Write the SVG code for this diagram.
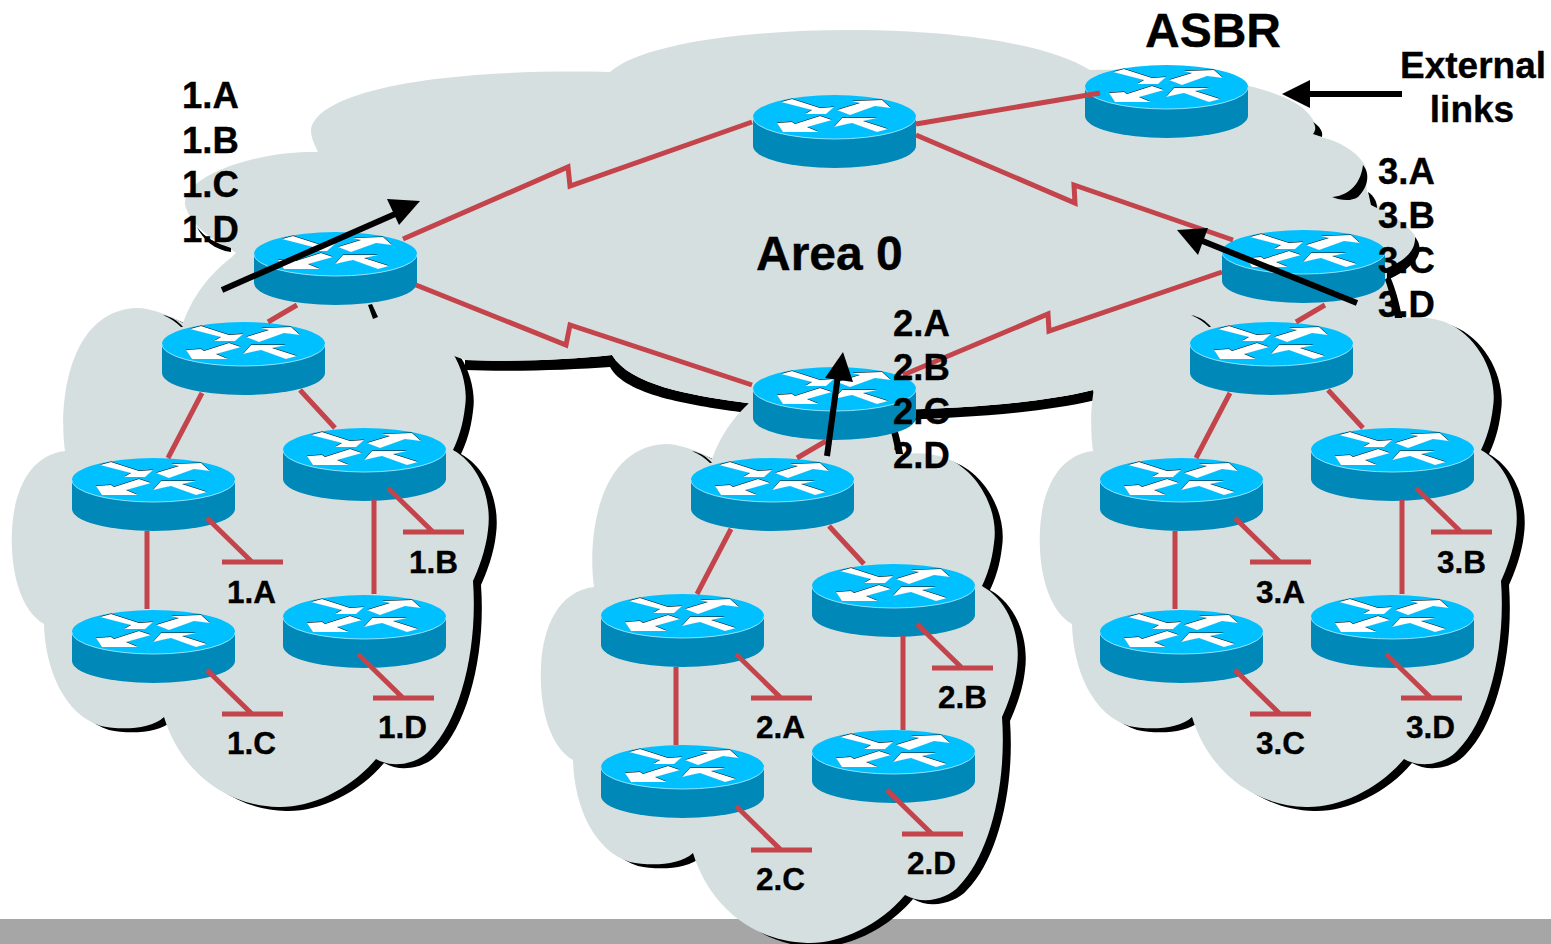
<svg xmlns="http://www.w3.org/2000/svg" width="1551" height="944" viewBox="0 0 1551 944">
<style>
.c{fill:#d6dfdf}
.s{fill:#000}
.l{fill:none;stroke:#c4444c;stroke-width:5}
.a{fill:none;stroke:#000;stroke-width:6}
.h{fill:#000}
text{font-family:"Liberation Sans",Arial,sans-serif;font-weight:700;fill:#000;stroke:#000;stroke-width:.35}
.t1{font-size:36.5px}
.t2{font-size:31.5px}
.t3{font-size:48px}
.t4{font-size:37px}
</style>
<defs>
<path id="area" d="M311 130C315 95 420 68 610 72C640 45 740 30 850 30C960 30 1050 45 1090 70C1160 68 1250 80 1290 100C1310 110 1318 125 1320 137C1345 142 1370 160 1367 178C1365 186 1368 195 1370 200C1390 215 1420 230 1417 245C1415 262 1400 272 1387 278L1300 350L1093 390C1040 403 970 408 890 410C850 412 790 410 740 402C690 395 630 385 612 355C570 360 510 362 465 360L300 300L232 250C215 242 190 225 185 205C182 175 260 150 318 152C312 140 311 135 311 130Z"/>
<path id="cloud" d="M183 323C195 290 215 270 232 257C250 235 300 228 330 240C352 255 362 290 367 318L377 318C390 316 405 318 417 322C450 335 470 375 465 407C463 425 458 440 453 450C480 465 492 500 488 530C486 550 478 570 473 581C478 650 460 720 430 750C420 762 395 770 376 759C350 790 310 808 278 807C225 806 180 770 164 717C150 730 120 730 101 726C65 715 45 670 44 624C20 610 10 570 12 530C14 490 30 455 65 451C58 400 70 310 137 308C150 308 170 315 183 323Z"/>
<path id="cloudmark" d="M163 315C172 317 178 321 183 327L181 327C176 322 170 318 163 315Z"/>
<g id="router">
<path d="M0 22V51A81.5 22 0 0 0 163 51V22Z" fill="#0089b8"/>
<ellipse cx="81.5" cy="22" rx="81.5" ry="22" fill="#00c0ff"/>
<path d="M0 22A81.5 22 0 0 0 163 22" fill="none" stroke="#8fe3ff" stroke-width="1"/>
<path fill="#000" d="M28 6.5L39 3.5L67 12.5L81 11.5L73 18.5L52 18.5L59 14.5ZM84 14.5L107 7.5L99 5.5L129 4.5L138 12.5L122 10.5L97 19.5ZM24 27.5L30 36.5L66 36.5L54 31.5L79 24.5L67 20.5L42 28.5L39 26.5ZM81 31.5L89 22.5L124 22.5L110 25.5L135 33.5L124 36.5L99 27.5L94 28.5Z"/>
<path fill="#fff" d="M28 7L39 4L67 13L81 12L73 19L52 19L59 15ZM84 15L107 8L99 6L129 5L138 13L122 11L97 20ZM24 28L30 37L66 37L54 32L79 25L67 21L42 29L39 27ZM81 32L89 23L124 23L110 26L135 34L124 37L99 28L94 29Z"/>
</g>
</defs>
<rect x="0" y="919" width="1551" height="25" fill="#a6a6a6"/>
<g id="cloud-shadows" class="s">
<path d="M465 360C510 362 570 360 612 355C630 385 690 395 740 402C790 410 850 412 890 410C970 408 1040 403 1093 390L1096 400C1040 413 970 418 890 420C850 422 790 420 740 412C690 405 625 395 610 367C570 370 510 372 465 370Z"/>
<use href="#cloud" transform="translate(8,4)"/>
<use href="#cloud" transform="translate(537,140)"/>
<use href="#cloud" transform="translate(1036,4)"/>
</g>
<g id="clouds" class="c">
<use href="#area"/>
<use href="#cloud"/>
<use href="#cloud" transform="translate(529,136)"/>
<use href="#cloud" transform="translate(1028,0)"/>
</g>
<g id="cloud-marks" class="s">
<use href="#cloudmark"/>
<use href="#cloudmark" transform="translate(529,136)"/>
<use href="#cloudmark" transform="translate(1028,0)"/>
<path d="M368 305L372 304L378 317L373 319Z"/>
<path d="M197 227C205 238 216 243 231 248L231 252C215 250 203 240 197 227Z"/>
<path d="M1313 122C1320 127 1323 131 1322 137L1313 134C1316 130 1316 126 1313 122Z"/>
<path d="M1363 165C1369 172 1370 185 1358 197C1350 202 1340 200 1332 197C1345 196 1360 188 1363 165Z"/>
<path d="M1368 192C1374 196 1377 202 1377 208L1371 205Z"/>
<path d="M1415 237C1422 245 1421 256 1412 264C1404 272 1396 276 1387 280L1387 268C1400 263 1416 253 1415 237Z"/>
</g>
<g id="router-1" transform="translate(254,232)"><use href="#router"/></g>
<g id="router-area0" transform="translate(753,95)"><use href="#router"/></g>
<g id="router-asbr" transform="translate(1085,65)"><use href="#router"/></g>
<g id="router-3" transform="translate(1222,230)"><use href="#router"/></g>
<g id="router-2" transform="translate(753,367)"><use href="#router"/></g>
<g id="router-1-0" transform="translate(162,322)"><use href="#router"/></g>
<g id="router-1-a" transform="translate(72,458)"><use href="#router"/></g>
<g id="router-1-b" transform="translate(283,428)"><use href="#router"/></g>
<g id="router-1-c" transform="translate(72,610)"><use href="#router"/></g>
<g id="router-1-d" transform="translate(283,595)"><use href="#router"/></g>
<g id="router-2-0" transform="translate(691,458)"><use href="#router"/></g>
<g id="router-2-a" transform="translate(601,594)"><use href="#router"/></g>
<g id="router-2-b" transform="translate(812,564)"><use href="#router"/></g>
<g id="router-2-c" transform="translate(601,745)"><use href="#router"/></g>
<g id="router-2-d" transform="translate(812,730)"><use href="#router"/></g>
<g id="router-3-0" transform="translate(1190,322)"><use href="#router"/></g>
<g id="router-3-a" transform="translate(1100,458)"><use href="#router"/></g>
<g id="router-3-b" transform="translate(1311,428)"><use href="#router"/></g>
<g id="router-3-c" transform="translate(1100,610)"><use href="#router"/></g>
<g id="router-3-d" transform="translate(1311,595)"><use href="#router"/></g>
<g id="connectors">
<g class="l">
<path d="M403 239L568 167L570 186L752 122"/>
<path d="M416 285L566 345L570 325L752 385"/>
<path d="M916 124L1100 93"/>
<path d="M916 135L1075 203L1074 185L1233 240"/>
<path d="M1222 272L1049 331L1048 314L903 375"/>
<g id="tree">
<path d="M297 305L268 322M202 393L168 458M300 390L335 428M147 531V609M374 500V594"/>
<path d="M207 518L252 562M222 562H283M388 488L433 532M403 532H464M207 670L252 714M222 714H283M358 654L403 698M373 698H434"/>
</g>
<use href="#tree" transform="translate(529,136)"/>
<use href="#tree" transform="translate(1028,0)"/>
</g>
<g class="a">
<path d="M222 290L402 211"/>
<path d="M1357 303L1195 238"/>
<path d="M827 456L838 375"/>
<path d="M1402 94H1305"/>
</g>
<g class="h">
<path d="M387 199L420 201L399 225Z"/>
<path d="M1177 230L1208 228L1198 255Z"/>
<path d="M843 352L825 378L853 382Z"/>
<path d="M1282 94L1310 80V108Z"/>
</g>
</g>
<g id="labels">
<text class="t1" x="182" y="108">1.A</text>
<text class="t1" x="182" y="153">1.B</text>
<text class="t1" x="182" y="197">1.C</text>
<text class="t1" x="182" y="242">1.D</text>
<text class="t1" x="1378" y="184">3.A</text>
<text class="t1" x="1378" y="228">3.B</text>
<text class="t1" x="1378" y="273">3.C</text>
<text class="t1" x="1378" y="317">3.D</text>
<text class="t1" x="893" y="336">2.A</text>
<text class="t1" x="893" y="380">2.B</text>
<text class="t1" x="893" y="424">2.C</text>
<text class="t1" x="893" y="468">2.D</text>
<text class="t3" x="1145" y="47">ASBR</text>
<text class="t4" x="1400" y="78">External</text>
<text class="t4" x="1472" y="122" text-anchor="middle">links</text>
<text class="t3" x="756" y="270">Area 0</text>
<text class="t2" x="227" y="603">1.A</text>
<text class="t2" x="409" y="573">1.B</text>
<text class="t2" x="227" y="754">1.C</text>
<text class="t2" x="378" y="738">1.D</text>
<text class="t2" x="756" y="738">2.A</text>
<text class="t2" x="938" y="708">2.B</text>
<text class="t2" x="756" y="890">2.C</text>
<text class="t2" x="907" y="874">2.D</text>
<text class="t2" x="1256" y="603">3.A</text>
<text class="t2" x="1437" y="573">3.B</text>
<text class="t2" x="1256" y="754">3.C</text>
<text class="t2" x="1406" y="738">3.D</text>
</g>
</svg>
